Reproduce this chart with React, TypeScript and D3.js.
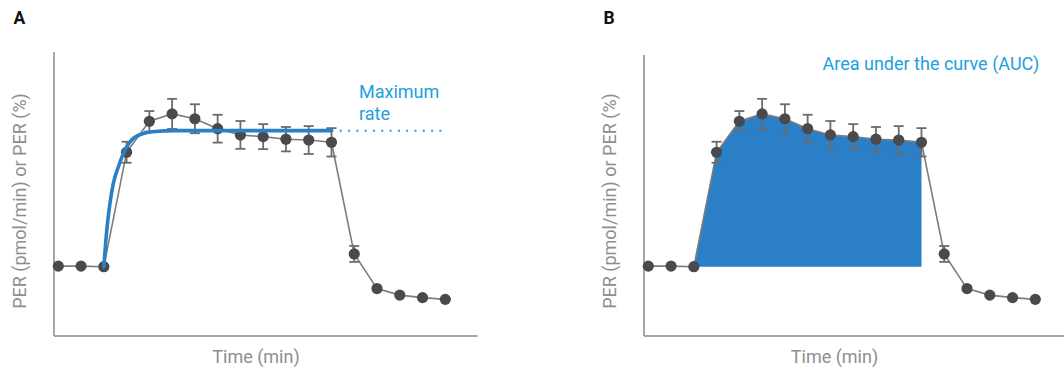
import React from 'react';
import * as d3 from 'd3';

// measurement index (time axis has no tick labels)
const timePoints = [1, 2, 3, 4, 5, 6, 7, 8, 9, 10, 11, 12, 13, 14, 15, 16, 17, 18];
// PER, arbitrary units (0-100 of the plot height)
const perMean = [24.6, 24.6, 24.4, 64.7, 75.6, 78.2, 76.5, 73.0, 70.8, 70.2, 69.3, 69.0, 68.2, 28.9, 16.7, 14.4, 13.5, 12.9];
const perErr = [0, 0, 0, 3.7, 3.6, 5.3, 5.1, 4.9, 4.9, 4.4, 4.3, 4.9, 5.0, 2.8, 0, 0, 0, 0];

// fitted rise curve in panel A
const fitTime = [3.0, 3.13, 3.27, 3.42, 3.64, 3.93, 4.22, 4.66, 5.25, 6.13, 13.0];
const fitRate = [24.4, 37.3, 46.7, 53.8, 59.6, 65.5, 69.0, 71.1, 72.0, 72.3, 72.3];
const maxRate = 72.3;
const maxRateEnd = 17.9;

// AUC window (first and last index of the treatment period)
const aucStart = 2;
const aucEnd = 12;

const panelLabels = ['A', 'B'];
const yLabel = 'PER (pmol/min) or PER (%)';
const xLabel = 'Time (min)';

const W = 1064;
const H = 371;
const FONT = 'Roboto, "Noto Sans", sans-serif';
const GREY_TEXT = '#8e8e8e';
const AXIS = '#8a8a8a';
const LIGHT_BLUE = '#1d9fe0';
const DARK_BLUE = '#2b7fc6';

const points = timePoints.map((t, i) => ({ t, v: perMean[i], e: perErr[i] }));
const fit = fitTime.map((t, i) => ({ t, v: fitRate[i] }));

type PanelProps = {
  dx: number;
  label: string;
  kind: 'rate' | 'auc';
  axisTop: number;
  axisRight: number;
  xLabelX: number;
};

const Panel = ({ dx, label, kind, axisTop, axisRight, xLabelX }: PanelProps) => {
  const x = d3.scaleLinear().domain([1, 18]).range([58.3 + dx, 445.3 + dx]);
  const y = d3.scaleLinear().domain([0, 100]).range([336, 52]);
  const axisX = 54 + dx;

  const dataLine = d3.line<{ t: number; v: number }>().x(d => x(d.t)).y(d => y(d.v))(points) || '';
  const fitLine = d3.line<{ t: number; v: number }>().x(d => x(d.t)).y(d => y(d.v)).curve(d3.curveMonotoneX)(fit) || '';
  const auc = d3.area<{ t: number; v: number }>()
    .x(d => x(d.t))
    .y0(y(perMean[aucStart]))
    .y1(d => y(d.v))(points.slice(aucStart, aucEnd + 1)) || '';

  return (
    <g>
      <text x={13.5 + dx} y={23.5} fontFamily={FONT} fontWeight="bold" fontSize={17.5} fill="#111">{label}</text>

      {/* axes */}
      <line x1={axisX} x2={axisX} y1={axisTop} y2={336} stroke={AXIS} strokeWidth={1.5} />
      <line x1={axisX} x2={axisRight} y1={336} y2={336} stroke={AXIS} strokeWidth={1.5} />
      <text transform={`translate(${26 + dx},${201}) rotate(-90)`} textAnchor="middle" fontFamily={FONT} fontSize={18} fill={GREY_TEXT}>{yLabel}</text>
      <text x={xLabelX} y={363} textAnchor="middle" fontFamily={FONT} fontSize={18} fill={GREY_TEXT}>{xLabel}</text>

      {kind === 'auc' && <path d={auc} fill={DARK_BLUE} />}

      <path d={dataLine} fill="none" stroke="#7d7d7d" strokeWidth={1.6} />
      {points.filter(p => p.e > 0).map(p => (
        <g key={p.t} stroke="#6b6b6b" strokeWidth={1.8}>
          <line x1={x(p.t)} x2={x(p.t)} y1={y(p.v + p.e)} y2={y(p.v - p.e)} />
          <line x1={x(p.t) - 5} x2={x(p.t) + 5} y1={y(p.v + p.e)} y2={y(p.v + p.e)} />
          <line x1={x(p.t) - 5} x2={x(p.t) + 5} y1={y(p.v - p.e)} y2={y(p.v - p.e)} />
        </g>
      ))}
      {points.map(p => (
        <circle key={p.t} cx={x(p.t)} cy={y(p.v)} r={5.6} fill="#4a4a4e" />
      ))}

      {kind === 'rate' && (
        <g>
          <line x1={x(fitTime[fitTime.length - 1])} x2={x(maxRateEnd)} y1={y(maxRate)} y2={y(maxRate)}
            stroke={LIGHT_BLUE} strokeWidth={2} strokeDasharray="2,6.3" />
          <path d={fitLine} fill="none" stroke={DARK_BLUE} strokeWidth={3.6} strokeLinecap="round" />
          <text x={359 + dx} y={98} fontFamily={FONT} fontSize={18} fill={LIGHT_BLUE}>Maximum</text>
          <text x={359 + dx} y={120} fontFamily={FONT} fontSize={18} fill={LIGHT_BLUE}>rate</text>
        </g>
      )}
      {kind === 'auc' && (
        <text x={822.5} y={70} fontFamily={FONT} fontSize={18} fill={LIGHT_BLUE}>Area under the curve (AUC)</text>
      )}
    </g>
  );
};

const App = () => (
  <svg width={W} height={H} style={{ position: 'absolute', left: 0, top: 0, background: '#fff' }}>
    <Panel dx={0} label={panelLabels[0]} kind="rate" axisTop={52} axisRight={477.7} xLabelX={256} />
    <Panel dx={590} label={panelLabels[1]} kind="auc" axisTop={55} axisRight={1064} xLabelX={834.5} />
  </svg>
);

export default App;
